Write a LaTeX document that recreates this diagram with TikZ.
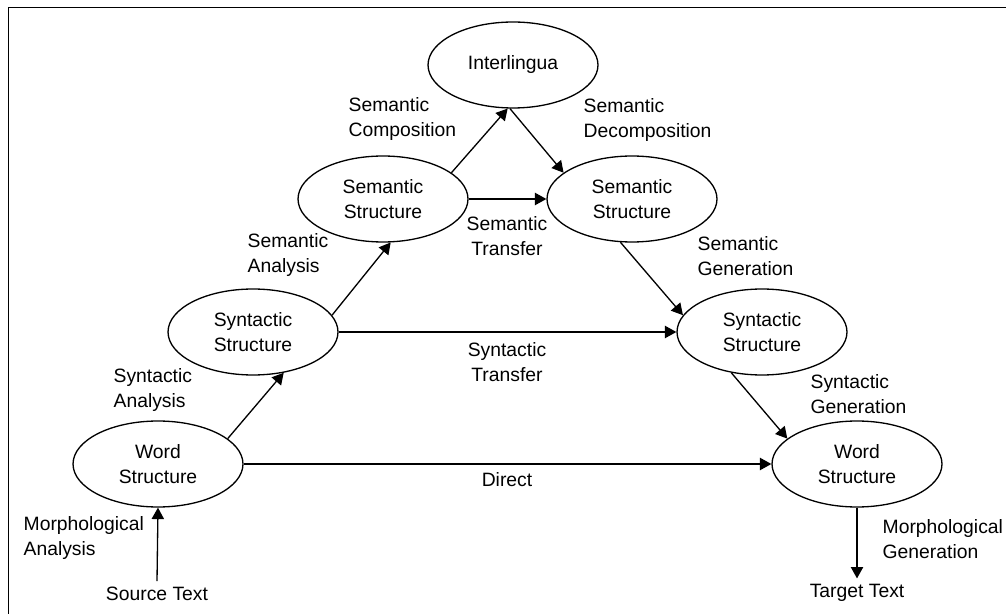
\documentclass[tikz,border=0pt]{standalone}
\usepackage{fontspec}
\setmainfont{Liberation Sans}
\usetikzlibrary{shapes.geometric, arrows.meta, positioning}

\begin{document}
\begin{tikzpicture}[%
    x=0.02cm, y=-0.02cm,  % pixel grid, y runs downwards
    >={Triangle[length=6.5pt, width=7pt]},  % arrow style
    line width=0.75pt,
    every node/.style={font=\fontsize{11}{14.2}\selectfont},
    levelnode/.style={draw, ellipse, align=center, minimum width=3.4cm, minimum height=1.72cm, inner sep=1pt},
    endnode/.style={align=center, inner sep=3pt},
    sidelabel/.style={align=left, anchor=west, inner sep=0pt},
    midlabel/.style={align=center, inner sep=0pt},
    ]

\useasboundingbox (0,0) rectangle (1006,614);

%==================================================
% Frame
%==================================================
\draw[line width=1.1pt] (8.5,614) -- (8.5,7.5) -- (1006,7.5);

%==================================================
% Level nodes
%==================================================
\node[levelnode] (inter) at (513,65)  {Interlingua};
\node[levelnode] (seml)  at (383,199) {Semantic\\Structure};
\node[levelnode] (semr)  at (632,199) {Semantic\\Structure};
\node[levelnode] (synl)  at (253,332) {Syntactic\\Structure};
\node[levelnode] (synr)  at (762,332) {Syntactic\\Structure};
\node[levelnode] (wordl) at (158,464) {Word\\Structure};
\node[levelnode] (wordr) at (857,464) {Word\\Structure};

%==================================================
% Source and target
%==================================================
\node[endnode] (src) at (157,594) {Source Text};
\node[endnode] (tgt) at (857,593) {Target Text};

%==================================================
% Labels
%==================================================
% Analysis side
\node[sidelabel] at (23,538)  {Morphological\\Analysis};
\node[sidelabel] at (113,390) {Syntactic\\Analysis};
\node[sidelabel] at (247,255) {Semantic\\Analysis};
\node[sidelabel] at (348,119) {Semantic\\Composition};

% Generation side
\node[sidelabel] at (583,120) {Semantic\\Decomposition};
\node[sidelabel] at (697,256) {Semantic\\Generation};
\node[sidelabel] at (810,394) {Syntactic\\Generation};
\node[sidelabel] at (882,539) {Morphological\\Generation};

% Transfers
\node[midlabel] at (507,236) {Semantic\\Transfer};
\node[midlabel] at (507,362) {Syntactic\\Transfer};
\node[midlabel] at (507,480) {Direct};

%==================================================
% Arrows
%==================================================
% Analysis
\draw[->] (src.north) -- (wordl.south);
\draw[->] (wordl.20) -- (synl.-53);
\draw[->] (synl.12) -- (seml.-80);
\draw[->] (seml.21) -- (inter.-97);

% Generation
\draw[->] (inter.-94) -- (semr.159);
\draw[->] (semr.-105) -- (synr.168);
\draw[->] (synr.-127) -- (wordr.160);
\draw[->] (wordr.south) -- (tgt.north);

% Transfers
\draw[->] (seml.east) -- (semr.west);
\draw[->] (synl.east) -- (synr.west);
\draw[->] (wordl.east) -- (wordr.west);

%==================================================
\end{tikzpicture}
\end{document}
